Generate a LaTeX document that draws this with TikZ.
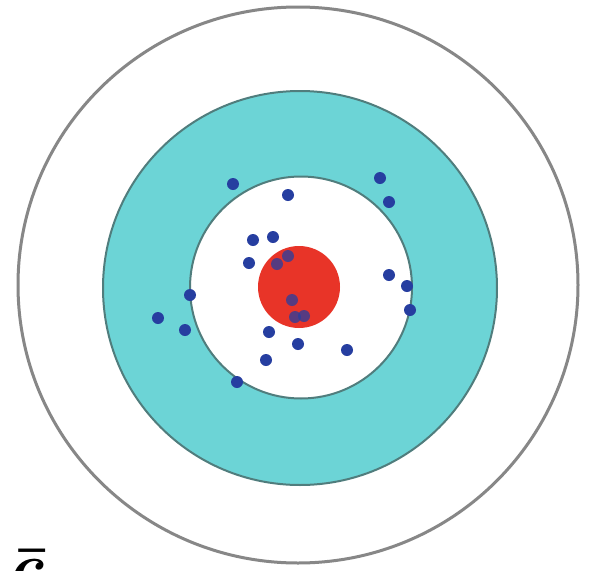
\documentclass[tikz,border=0pt]{standalone}
\usepackage{bm}
\definecolor{ringgray}{RGB}{135,135,135}
\definecolor{tealfill}{RGB}{108,212,214}
\definecolor{tealedge}{RGB}{80,125,125}
\definecolor{bullred}{RGB}{232,52,40}
\definecolor{dotblue}{RGB}{38,62,160}
\tikzset{
  dot/.style={fill=dotblue},
  softdot/.style={fill=dotblue, opacity=0.75},
}
\begin{document}
\begin{tikzpicture}[x=1pt,y=-1pt]
\useasboundingbox (0,0) rectangle (590,571);
\fill[white] (0,0) rectangle (590,571);
% outer ring
\draw[ringgray, line width=3pt] (298,285) ellipse [x radius=280, y radius=278];
% teal ring
\fill[tealfill] (300,288) circle [radius=197];
\draw[tealedge, line width=2pt] (300,288) circle [radius=197];
% inner white
\fill[white] (301,287.5) circle [radius=111];
\draw[tealedge, line width=2pt] (301,287.5) circle [radius=111];
% bull
\fill[bullred] (299,287) circle [radius=41];
% dots
\foreach \x/\y in {233/184, 288/195, 380/178, 389/202, 253/240, 273/237,
  249/263, 190/295, 158/318, 185/330, 389/275, 407/286, 410/310,
  269/332, 298/344, 347/350, 266/360, 237/382}
  \fill[dot] (\x,\y) circle [radius=6];
\foreach \x/\y in {288/256, 277/264, 292/300, 295/317, 304/316}
  \fill[softdot] (\x,\y) circle [radius=6];
% label
\node[anchor=base west, inner sep=0pt, scale=6.5] (lbl) at (10,588) {$\bm{\bar{c}}$};
\end{tikzpicture}
\end{document}
